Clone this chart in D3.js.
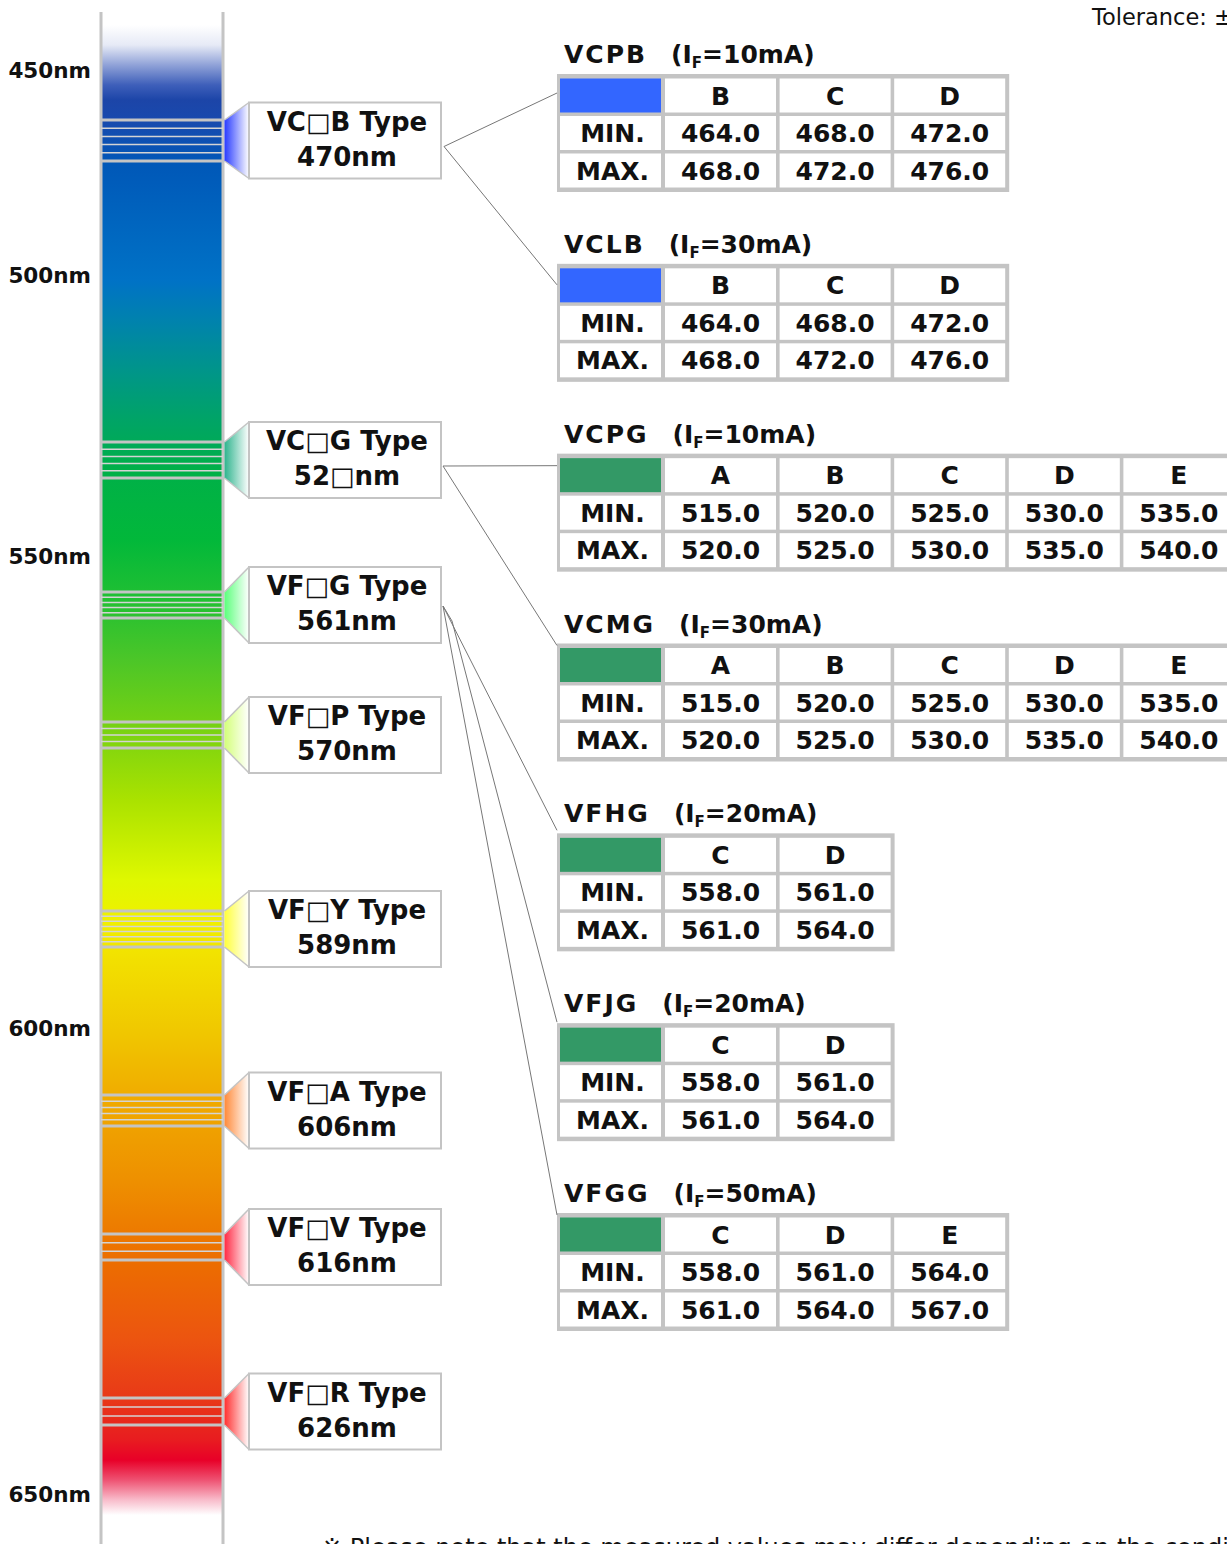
<!DOCTYPE html>
<html>
<head>
<meta charset="utf-8">
<script src="https://cdn.jsdelivr.net/npm/d3@7"></script>
<style>
  body { margin: 0; background: #fff; }
  svg { display: block; font-family: "DejaVu Sans", sans-serif; }
</style>
</head>
<body>
<div id="chart-area"></div>
<script>
// wavelength axis ticks
var axisTicks = [450, 500, 550, 600, 650];

// callouts on the spectrum
var calloutSeries = ["VC\u25A1B", "VC\u25A1G", "VF\u25A1G", "VF\u25A1P", "VF\u25A1Y", "VF\u25A1A", "VF\u25A1V", "VF\u25A1R"];
var calloutNm = [470, 525, 561, 570, 589, 606, 616, 626];
var calloutNmLabel = ["470", "52\u25A1", "561", "570", "589", "606", "616", "626"];
var calloutBins = [5, 5, 5, 4, 7, 5, 3, 3];

// rank tables
var tableNames = ["VCPB", "VCLB", "VCPG", "VCMG", "VFHG", "VFJG", "VFGG"];
var tableCurrents = ["10mA", "30mA", "10mA", "30mA", "20mA", "20mA", "50mA"];
var tableCallout = [0, 0, 1, 1, 2, 2, 2];
var tableRanks = [
    ["B", "C", "D"], ["B", "C", "D"],
    ["A", "B", "C", "D", "E"], ["A", "B", "C", "D", "E"],
    ["C", "D"], ["C", "D"], ["C", "D", "E"]
];
var tableMin = [
    [464, 468, 472], [464, 468, 472],
    [515, 520, 525, 530, 535], [515, 520, 525, 530, 535],
    [558, 561], [558, 561], [558, 561, 564]
];
var tableMax = [
    [468, 472, 476], [468, 472, 476],
    [520, 525, 530, 535, 540], [520, 525, 530, 535, 540],
    [561, 564], [561, 564], [561, 564, 567]
];

// styles / layout
var bandHeights = [41, 36, 26, 26, 36, 31, 26, 27];
var calloutColours = ["#2a3cff", "#2fb48e", "#5cff7c", "#d4ff7a", "#ffff3a", "#ff8a3a", "#ff2a44", "#ff3030"];
var swatchColours = ["#3366ff", "#339966", "#339966"];
var leadStart = [[3, 6], [3, 6], [2, 6], [2, 6], [2, 1], [11, 16], [2, 1]];
var leadEnd = [19, 21, 12, 2, -3, -1, 2];
var grey = "#c4c4c4";
var ink = "#111";

var svg = d3.select("#chart-area")
    .append("svg")
    .attr("width", 1227)
    .attr("height", 1544);

// the picture's own (non-linear) wavelength scale
var y = d3.scaleLinear()
    .domain([450, 470, 500, 525, 550, 561, 570, 589, 600, 606, 616, 626, 650])
    .range([70, 140.5, 275, 460, 556, 605, 735, 929, 1028, 1110.5, 1247, 1411.5, 1494]);

var defs = svg.append("defs");

// spectrum gradient
var spec = defs.append("linearGradient")
    .attr("id", "spec")
    .attr("gradientUnits", "userSpaceOnUse")
    .attr("x1", 0).attr("x2", 0).attr("y1", 0).attr("y2", 1544);
var specStops = [
    [25, "#ffffff"], [45, "#e6eaf6"], [65, "#90a2d8"], [85, "#3e5fba"], [100, "#1c45a8"],
    [118, "#1949ad"], [165, "#0058b8"], [280, "#0072c6"], [320, "#0082ae"], [370, "#00958a"],
    [420, "#00a466"], [470, "#00b048"], [540, "#02b83a"], [600, "#22c032"], [660, "#4cc628"],
    [720, "#72d014"], [800, "#aae200"], [880, "#dff800"], [920, "#f0f000"], [960, "#f2e000"],
    [1030, "#f0c800"], [1100, "#f0aa00"], [1180, "#ee9000"], [1260, "#ec6e00"], [1340, "#ec5410"],
    [1400, "#e83818"], [1440, "#e81c20"], [1460, "#e80028"], [1480, "#ee5272"], [1500, "#f8bccb"],
    [1515, "#ffffff"]
];
spec.selectAll("stop").data(specStops).enter().append("stop")
    .attr("offset", (d) => d[0] / 1544)
    .attr("stop-color", (d) => d[1]);

// connector gradients
calloutColours.forEach((c, i) => {
    var g = defs.append("linearGradient")
        .attr("id", "cg" + i)
        .attr("x1", 0).attr("x2", 1).attr("y1", 0).attr("y2", 0);
    g.append("stop").attr("offset", 0).attr("stop-color", c);
    g.append("stop").attr("offset", 1).attr("stop-color", "#ffffff");
});

// spectrum bar
var barL = 101, barR = 223;
svg.append("rect")
    .attr("x", barL).attr("y", 12)
    .attr("width", barR - barL).attr("height", 1532)
    .attr("fill", "url(#spec)");
svg.selectAll(".edge").data([barL, barR]).enter().append("line")
    .attr("x1", (d) => d).attr("x2", (d) => d)
    .attr("y1", 12).attr("y2", 1544)
    .attr("stroke", grey).attr("stroke-width", 3);

// axis labels
svg.selectAll(".tick").data(axisTicks).enter().append("text")
    .attr("x", 91)
    .attr("y", (d) => y(d) + 8)
    .attr("text-anchor", "end")
    .attr("font-weight", "bold")
    .attr("font-size", 21.5)
    .attr("fill", ink)
    .text((d) => d + "nm");

// callouts
var boxL = 249, boxR = 441, boxH = 76;
calloutNm.forEach((nm, i) => {
    var cy = y(nm);
    var bt = cy - bandHeights[i] / 2, bb = cy + bandHeights[i] / 2;
    var g = svg.append("g");

    // band lines across the bar
    var sub = d3.range(1, calloutBins[i]).map((k) => bt + (bb - bt) * k / calloutBins[i]);
    g.selectAll(".thin").data(sub).enter().append("line")
        .attr("x1", barL).attr("x2", barR)
        .attr("y1", (d) => d).attr("y2", (d) => d)
        .attr("stroke", "#d4d4d4").attr("stroke-width", 1.5);
    g.selectAll(".thick").data([bt, bb]).enter().append("line")
        .attr("x1", barL).attr("x2", barR)
        .attr("y1", (d) => d).attr("y2", (d) => d)
        .attr("stroke", grey).attr("stroke-width", 3);

    // connector
    var top = cy - boxH / 2, bot = cy + boxH / 2;
    g.append("polygon")
        .attr("points", [[barR + 1.5, bt], [boxL, top], [boxL, bot], [barR + 1.5, bb]].join(" "))
        .attr("fill", "url(#cg" + i + ")");
    g.selectAll(".slant").data([[bt, top], [bb, bot]]).enter().append("line")
        .attr("x1", barR + 1.5).attr("x2", boxL)
        .attr("y1", (d) => d[0]).attr("y2", (d) => d[1])
        .attr("stroke", grey).attr("stroke-width", 1.5);

    g.append("rect")
        .attr("x", boxL).attr("y", top)
        .attr("width", boxR - boxL).attr("height", boxH)
        .attr("fill", "#fff").attr("stroke", grey).attr("stroke-width", 2);
    var t = g.append("text")
        .attr("text-anchor", "middle")
        .attr("font-weight", "bold")
        .attr("font-size", 26)
        .attr("fill", ink);
    t.append("tspan").attr("x", 347).attr("y", top + 28).text(calloutSeries[i] + " Type");
    t.append("tspan").attr("x", 347).attr("y", top + 63).text(calloutNmLabel[i] + "nm");
});

// tables
var tableTop = d3.scaleLinear().domain([0, 6]).range([74, 1213]);
var tabL = 557, firstW = 101;
var col = d3.scaleLinear().domain([0, 1]).range([665, 779.6]);
var cellW = 111;
var rowY = d3.scaleLinear().domain([0, 1]).range([4.5, 42]);
var rowH = 34;

var links = [];
tableNames.forEach((name, i) => {
    var t0 = tableTop(i);
    var n = tableRanks[i].length;
    var g = svg.append("g");

    // title
    var title = g.append("text")
        .attr("x", 564).attr("y", t0 - 11)
        .attr("font-weight", "bold")
        .attr("font-size", 25)
        .attr("fill", ink);
    title.append("tspan").attr("letter-spacing", 2).text(name);
    title.append("tspan").attr("dx", 24).text("(I");
    title.append("tspan").attr("font-size", 15).attr("dy", 5).text("F");
    title.append("tspan").attr("dy", -5).text("=" + tableCurrents[i] + ")");

    var right = col(n - 1) + cellW + 4;
    g.append("rect")
        .attr("x", tabL).attr("y", t0)
        .attr("width", right - tabL).attr("height", 118)
        .attr("fill", grey);

    var rows = [["", tableRanks[i]], ["MIN.", tableMin[i].map((v) => v.toFixed(1))], ["MAX.", tableMax[i].map((v) => v.toFixed(1))]];
    rows.forEach((r, ri) => {
        var ry = t0 + rowY(ri);
        g.append("rect")
            .attr("x", tabL + 3).attr("y", ry)
            .attr("width", firstW).attr("height", rowH)
            .attr("fill", ri === 0 ? swatchColours[tableCallout[i]] : "#fff");
        if (ri > 0) {
            g.append("text")
                .attr("x", tabL + 3 + firstW / 2 + 2).attr("y", ry + rowH / 2)
                .attr("dy", "0.36em")
                .attr("text-anchor", "middle")
                .attr("font-weight", "bold").attr("font-size", 25)
                .attr("fill", ink)
                .text(r[0]);
        }
        r[1].forEach((v, ci) => {
            g.append("rect")
                .attr("x", col(ci)).attr("y", ry)
                .attr("width", cellW).attr("height", rowH)
                .attr("fill", "#fff");
            g.append("text")
                .attr("x", col(ci) + cellW / 2).attr("y", ry + rowH / 2)
                .attr("dy", "0.36em")
                .attr("text-anchor", "middle")
                .attr("font-weight", "bold").attr("font-size", 25)
                .attr("fill", ink)
                .text(v);
        });
    });

    links.push({ from: tableCallout[i], start: leadStart[i], y: t0 + leadEnd[i] });
});

// leader lines from callouts to their tables
svg.selectAll(".lead").data(links).enter().append("polyline")
    .attr("points", (d) => {
        var cy = y(calloutNm[d.from]);
        var pts = [[boxR + d.start[0], cy + d.start[1]]];
        if (d.start[0] > 3) pts.unshift([boxR + 2, cy + 1]);
        pts.push([tabL, d.y]);
        return pts.join(" ");
    })
    .attr("fill", "none")
    .attr("stroke", "#777")
    .attr("stroke-width", 1);

// notes
svg.append("text")
    .attr("x", 1092).attr("y", 25)
    .attr("font-size", 22.5)
    .attr("fill", ink)
    .text("Tolerance: \u00B11nm");
svg.append("text")
    .attr("x", 322).attr("y", 1556)
    .attr("font-size", 24)
    .attr("fill", ink)
    .text("\u203B Please note that the measured values may differ depending on the conditions.");
</script>
</body>
</html>
